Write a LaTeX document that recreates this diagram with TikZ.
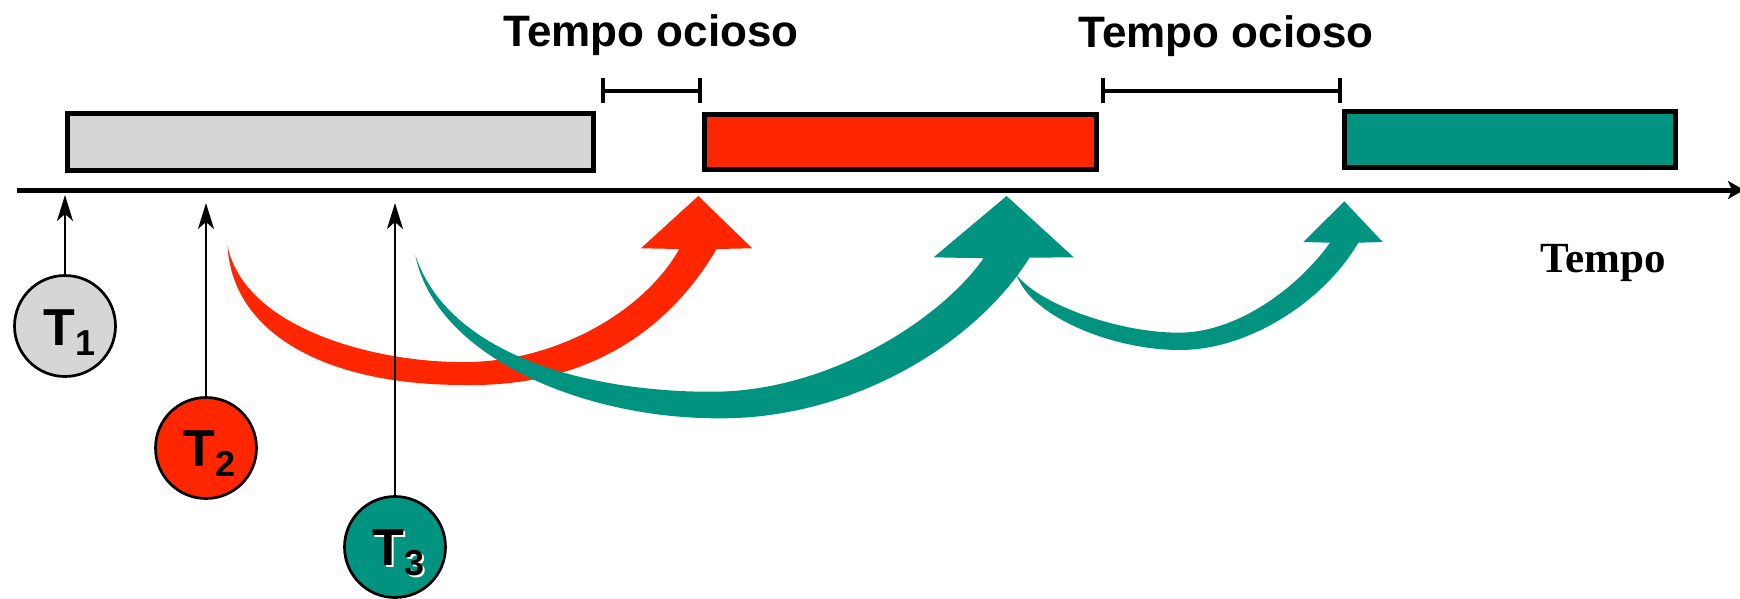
\documentclass[tikz,border=0pt]{standalone}
\usepackage{fontspec}
\newfontfamily\sansb{Liberation Sans}
\newfontfamily\serifb{Liberation Serif}
\usetikzlibrary{arrows.meta}
\definecolor{greyfill}{HTML}{D6D6D6}
\definecolor{redfill}{HTML}{FF2600}
\definecolor{tealfill}{HTML}{00937F}
\tikzset{
  taskbox/.style={draw=black, line width=4.5pt, inner sep=0pt},
  taskcircle/.style={circle, draw=black, line width=2.7pt, minimum size=101pt, inner sep=0pt},
  tlabel/.style={anchor=base west, inner sep=0pt, font=\sansb\bfseries\fontsize{52}{52}\selectfont},
  idlelabel/.style={anchor=base, inner sep=0pt, font=\sansb\bfseries\fontsize{44}{50}\selectfont},
  bracketline/.style={line width=4pt, {Bar[width=25pt]}-{Bar[width=25pt]}},
  arrival/.style={line width=2pt, -{Stealth[length=26pt,width=16pt,inset=7pt]}}
}
\newcommand{\subnum}[1]{\kern1pt\raisebox{-10pt}{\fontsize{36}{36}\selectfont #1}}
\begin{document}
\begin{tikzpicture}[x=1pt,y=-1pt]
\useasboundingbox (0,0) rectangle (1740,599);

% boxes
\node[taskbox, fill=greyfill, minimum width=526pt, minimum height=57pt] (g) at (330.5,142) {};
\node[taskbox, fill=redfill, minimum width=392pt, minimum height=55pt] (r) at (900.5,142) {};
\node[taskbox, fill=tealfill, minimum width=331pt, minimum height=56pt] (tb) at (1510,139.5) {};

% idle brackets
\coordinate (b1l) at (601,91);
\coordinate (b1r) at (702,91);
\coordinate (b2l) at (1101,91);
\coordinate (b2r) at (1342,91);
\draw[bracketline] (b1l) -- (b1r);
\draw[bracketline] (b2l) -- (b2r);
\node[idlelabel] (i1) at (651,47) {Tempo ocioso};
\node[idlelabel] (i2) at (1226,48) {Tempo ocioso};

% time axis
\coordinate (axL) at (17,190);
\coordinate (axR) at (1744,190);
\draw[line width=5pt, -{Stealth[length=16pt,width=18pt,inset=4pt]}] (axL) -- (axR);
\node[anchor=base, inner sep=0pt, font=\serifb\bfseries\fontsize{43}{50}\selectfont] (tempo) at (1603,272) {Tempo};

% block arrows
\fill[redfill] (227.6,246) .. controls (232,330) and (320,385) .. (464,385)
  .. controls (570,387) and (660,345) .. (716.6,249)
  -- (752.2,248.3) -- (698.3,196) -- (640.9,248.3) -- (679.3,249)
  .. controls (645,310) and (560,360) .. (470,362)
  .. controls (380,364) and (245,330) .. (227.6,246) -- cycle;

\fill[tealfill] (1016.7,275) .. controls (1030,315) and (1110,350) .. (1180,350)
  .. controls (1250,350) and (1325,300) .. (1358.3,242.7)
  -- (1382.7,242) -- (1344.3,201.3) -- (1303.3,242) -- (1330,242.7)
  .. controls (1300,285) and (1240,332) .. (1180,332.7)
  .. controls (1120,333) and (1040,305) .. (1016.7,275) -- cycle;

\fill[tealfill] (415.3,255) .. controls (435,355) and (580,418) .. (716.6,418.3)
  .. controls (850,420) and (975,345) .. (1029.5,257.7)
  -- (1073.7,257.3) -- (1006.6,196) -- (933.6,257.3) -- (983.6,258.3)
  .. controls (940,320) and (830,390) .. (716.6,391.7)
  .. controls (600,393) and (450,360) .. (415.3,255) -- cycle;

% task circles
\node[taskcircle, fill=greyfill] (t1) at (65,326) {};
\node[taskcircle, fill=redfill] (t2) at (206,448) {};
\node[taskcircle, fill=tealfill] (t3) at (395,547) {};
\node[tlabel] (l1) at (43,345) {T\subnum{1}};
\node[tlabel] (l2) at (183,466) {T\subnum{2}};
\node[tlabel, text=white] (l3s) at (374,567) {T\subnum{3}};
\node[tlabel] (l3) at (372,565) {T\subnum{3}};

% arrival arrows
\coordinate (a1) at (65,195);
\coordinate (a2) at (206,203);
\coordinate (a3) at (395,203);
\draw[arrival] (t1.north) -- (a1);
\draw[arrival] (t2.north) -- (a2);
\draw[arrival] (t3.north) -- (a3);
\end{tikzpicture}
\end{document}
